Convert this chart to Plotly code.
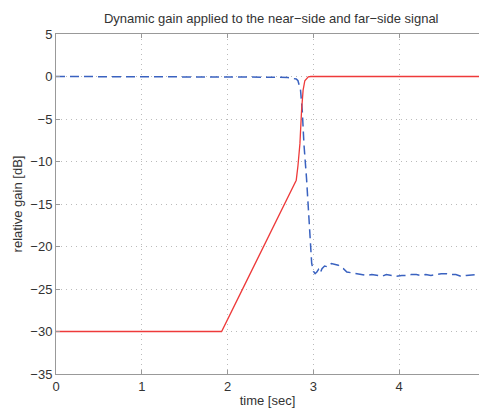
import plotly.graph_objects as go

# Far-side (red) gain curve
red_t = [0.0, 1.93, 2.18, 2.50, 2.80, 2.82, 2.843, 2.862, 2.88, 2.90, 2.92, 2.94, 2.97, 3.00, 4.93]
red_db = [-30.0, -30.0, -24.9, -18.3, -12.2, -10.5, -7.9, -4.0, -1.6, -0.5, -0.2, -0.05, 0.0, 0.0, 0.0]

# Near-side (blue, dashed) gain curve
blue_t = [0.0, 1.0, 2.0, 2.40, 2.57, 2.70, 2.76, 2.80, 2.82, 2.85, 2.87, 2.89, 2.92, 2.94, 2.96,
          2.98, 3.00, 3.02, 3.04, 3.06, 3.08, 3.10, 3.13, 3.17, 3.21, 3.25, 3.29, 3.32, 3.35, 3.39,
          3.45, 3.50, 3.56, 3.62, 3.68, 3.74, 3.80, 3.85, 3.91, 3.97, 4.03, 4.08, 4.14, 4.20, 4.25,
          4.31, 4.37, 4.43, 4.49, 4.55, 4.60, 4.66, 4.72, 4.78, 4.84, 4.89, 4.93]
blue_db = [0.0, 0.0, -0.02, -0.05, -0.08, -0.12, -0.2, -0.3, -0.5, -1.6, -4.0, -8.0, -12.0, -15.9, -19.6,
           -22.0, -22.9, -23.2, -23.0, -22.7, -23.1, -22.6, -22.3, -22.4, -22.0, -22.1, -22.2, -22.5, -22.6, -23.0,
           -23.1, -23.2, -23.3, -23.4, -23.3, -23.4, -23.5, -23.3, -23.4, -23.5, -23.4, -23.4, -23.3, -23.3, -23.4,
           -23.3, -23.4, -23.3, -23.2, -23.2, -23.3, -23.3, -23.5, -23.4, -23.3, -23.3, -23.4]

x_ticks = [0, 1, 2, 3, 4]
y_ticks = [5, 0, -5, -10, -15, -20, -25, -30, -35]

font_family = "Liberation Sans, Arial, sans-serif"
text_color = "#333333"

fig = go.Figure()
fig.add_trace(go.Scatter(x=blue_t, y=blue_db, mode="lines",
                         line=dict(color="#3a62c0", width=1.5, dash="9px,5px"),
                         showlegend=False))
fig.add_trace(go.Scatter(x=red_t, y=red_db, mode="lines",
                         line=dict(color="#ee3a3a", width=1.3),
                         showlegend=False))

fig.update_layout(
    width=480, height=409,
    margin=dict(l=56, r=1, t=34, b=35),
    paper_bgcolor="white", plot_bgcolor="white",
    font=dict(family=font_family, size=13, color=text_color),
    title=dict(text="Dynamic gain applied to the near\u2212side and far\u2212side signal",
               x=0.565, xanchor="center", y=0.955, yanchor="middle",
               font=dict(size=13, color=text_color)),
    xaxis=dict(range=[0, 4.93], tickvals=x_ticks, ticktext=[str(v) for v in x_ticks],
               showline=True, linecolor="#999999", linewidth=1, mirror="ticks",
               ticks="inside", ticklen=4, tickcolor="#999999",
               showgrid=True, gridcolor="#bbbbbb", griddash="1px,4px", gridwidth=1,
               zeroline=False,
               title=dict(text="time [sec]", standoff=3, font=dict(size=13, color=text_color)),
               tickfont=dict(size=13, color=text_color)),
    yaxis=dict(range=[-35, 5], tickvals=y_ticks,
               ticktext=[("\u2212" + str(-v)) if v < 0 else str(v) for v in y_ticks],
               showline=True, linecolor="#999999", linewidth=1,
               ticks="inside", ticklen=4, tickcolor="#999999",
               showgrid=True, gridcolor="#bbbbbb", griddash="1px,4px", gridwidth=1,
               zeroline=False,
               title=dict(text="relative gain [dB]", standoff=4, font=dict(size=13, color=text_color)),
               tickfont=dict(size=13, color=text_color)),
)

fig.write_html("out.html")
